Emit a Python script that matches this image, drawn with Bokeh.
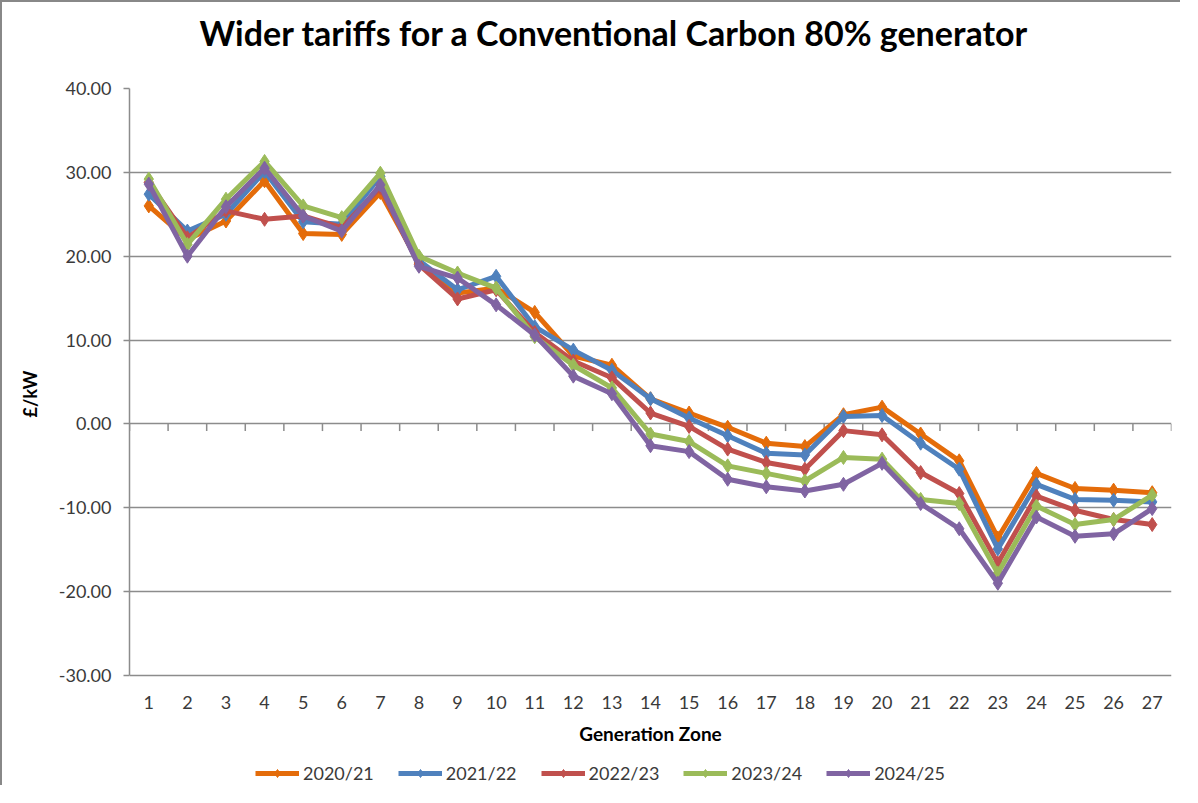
from bokeh.plotting import figure
from bokeh.models import (Range1d, FixedTicker, NumeralTickFormatter, Legend, LegendItem, Title)
from bokeh.embed import file_html
from bokeh.resources import INLINE

zones = list(range(1, 28))
tick_values = [-30, -20, -10, 0, 10, 20, 30, 40]

s2020 = [26.0, 22.0, 24.2, 29.0, 22.7, 22.6, 27.6, 19.2, 15.6, 16.2, 13.3, 8.1, 7.0, 3.0, 1.3, -0.4, -2.3, -2.7, 1.1, 2.0, -1.2, -4.4, -13.6, -5.9, -7.7, -7.9, -8.2]
s2021 = [27.4, 23.0, 25.0, 30.1, 24.1, 23.8, 29.5, 19.5, 16.0, 17.6, 11.6, 8.8, 6.4, 3.0, 0.7, -1.4, -3.5, -3.7, 0.9, 1.0, -2.3, -5.4, -14.9, -7.2, -9.0, -9.1, -9.3]
s2022 = [28.8, 22.2, 25.4, 24.4, 24.8, 23.4, 28.2, 19.0, 14.9, 16.0, 10.9, 7.5, 5.5, 1.3, -0.3, -3.0, -4.6, -5.4, -0.8, -1.3, -5.8, -8.3, -16.6, -8.6, -10.3, -11.4, -12.0]
s2023 = [29.2, 21.4, 26.8, 31.3, 26.0, 24.6, 29.9, 20.0, 18.0, 16.2, 10.4, 7.0, 4.3, -1.2, -2.1, -5.0, -5.9, -6.8, -4.0, -4.2, -9.0, -9.5, -17.8, -9.8, -12.0, -11.4, -8.5]
s2024 = [28.6, 20.0, 25.9, 30.5, 24.8, 23.0, 28.5, 18.8, 17.4, 14.2, 10.6, 5.7, 3.6, -2.6, -3.3, -6.6, -7.5, -8.0, -7.2, -4.7, -9.5, -12.5, -19.0, -11.1, -13.4, -13.1, -10.1]

series_names = ["2020/21", "2021/22", "2022/23", "2023/24", "2024/25"]
series_values = [s2020, s2021, s2022, s2023, s2024]
colors = ["#E46C0A", "#4F81BD", "#C0504D", "#9BBB59", "#8064A2"]

FONT = "Lato"
GRID = "#8c8c8c"
TXT = "#3a3a3a"

# layout (canvas pixels): frame top at 86, value -30 at 673, canvas bottom at 785
W, H = 1180, 785
FRAME_TOP, AXIS_BOTTOM_PX = 86, 673
y_min, y_max = tick_values[0], tick_values[-1]
px_per_unit = (AXIS_BOTTOM_PX - FRAME_TOP) / (y_max - y_min)
y_start = y_min - (H - AXIS_BOTTOM_PX) / px_per_unit

p = figure(width=W, height=H, output_backend="svg", toolbar_location=None,
           x_range=Range1d(0.5, 27.5), y_range=Range1d(y_start, y_max),
           min_border_left=127, min_border_right=11, min_border_top=FRAME_TOP, min_border_bottom=0)
p.styles = {"border-top": "2px solid #888888", "border-left": "2px solid #888888"}
p.outline_line_color = None
p.background_fill_color = "white"
p.border_fill_color = "white"

# spacer between title and plot frame (closest to frame)
spacer = Title(text=" ", text_font_size="1px", standoff=26)
p.add_layout(spacer, "above")
title = Title(text="Wider tariffs for a Conventional Carbon 80% generator", align="left",
              offset=70, text_font=FONT, text_font_size="34px", text_font_style="bold",
              text_color="black", standoff=10, vertical_align="top")
p.add_layout(title, "above")

# grid
p.xgrid.visible = False
p.ygrid.ticker = FixedTicker(ticks=tick_values)
p.ygrid.grid_line_color = GRID
p.ygrid.grid_line_width = 1.5

# y axis
p.yaxis.ticker = FixedTicker(ticks=tick_values)
p.yaxis.bounds = (y_min, y_max)
p.yaxis.formatter = NumeralTickFormatter(format="0.00")
p.yaxis.axis_line_color = GRID
p.yaxis.axis_line_width = 1.5
p.yaxis.major_tick_line_color = GRID
p.yaxis.major_tick_line_width = 1.5
p.yaxis.major_tick_out = 6
p.yaxis.major_tick_in = 0
p.yaxis.minor_tick_line_color = None
p.yaxis.major_label_text_font = FONT
p.yaxis.major_label_text_font_size = "18px"
p.yaxis.major_label_text_color = TXT
p.yaxis.major_label_standoff = 12

# y axis title, centred on the value span rather than the whole frame
ytitle = Title(text="£/kW", align="right", offset=282, text_font=FONT, text_font_size="18px",
               text_font_style="bold", text_color="black", standoff=28, vertical_align="middle")
p.add_layout(ytitle, "left")

# x axis, fixed at the bottom value of the value axis
p.xaxis.fixed_location = y_min
p.xaxis.ticker = FixedTicker(ticks=zones)
p.xaxis.axis_line_color = None
p.xaxis.major_tick_line_color = None
p.xaxis.minor_tick_line_color = None
p.xaxis.major_label_text_font = FONT
p.xaxis.major_label_text_font_size = "18px"
p.xaxis.major_label_text_color = TXT
p.xaxis.major_label_standoff = 14
p.xaxis.axis_label = "Generation Zone"
p.xaxis.axis_label_text_font = FONT
p.xaxis.axis_label_text_font_size = "19px"
p.xaxis.axis_label_text_font_style = "bold"
p.xaxis.axis_label_text_color = "black"
p.xaxis.axis_label_standoff = 10

# category tick marks on the zero line
bounds = [z - 0.5 for z in zones] + [zones[-1] + 0.5]
p.segment(x0=bounds, y0=[0] * len(bounds), x1=bounds, y1=[-0.85] * len(bounds),
          line_color=GRID, line_width=1.5)

items = []
for name, vals, col in zip(series_names, series_values, colors):
    r1 = p.line(zones, vals, line_color=col, line_width=5, line_join="round")
    r2 = p.scatter(zones, vals, marker="diamond", size=14, fill_color=col, line_color=col)
    items.append(LegendItem(label=name, renderers=[r1, r2]))

legend = Legend(items=items, orientation="horizontal", location=(126, 3))
legend.background_fill_alpha = 0
legend.border_line_color = None
legend.padding = 2
legend.margin = 0
legend.spacing = 24
legend.glyph_width = 44
legend.glyph_height = 20
legend.label_height = 22
legend.label_standoff = 4
legend.label_text_font = FONT
legend.label_text_font_size = "18px"
legend.label_text_color = TXT
p.add_layout(legend, "center")

open("out.html", "w").write(file_html(p, INLINE))
